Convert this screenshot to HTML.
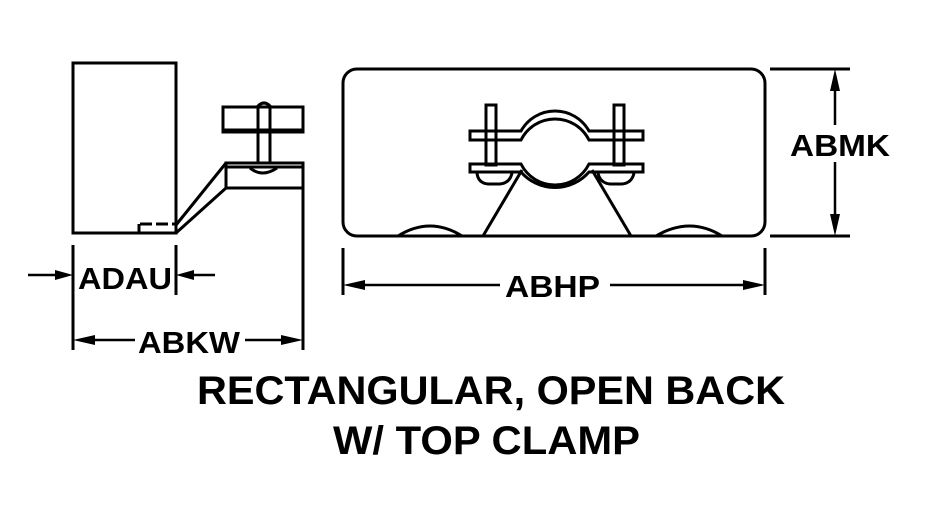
<!DOCTYPE html>
<html><head><style>body{margin:0;background:#fff}</style></head><body>
<svg width="930" height="510" xmlns="http://www.w3.org/2000/svg" font-family="Liberation Sans, sans-serif" font-weight="bold">
<g fill="none" stroke="#000" stroke-width="3">
<rect x="73" y="63" width="103" height="170"/>
<path d="M140 224H176M139 224V233" stroke-dasharray="12,4"/>
<path d="M176 225L226 163M176 233L226 188"/>
<rect x="226" y="163" width="77" height="25"/>
<line x1="226" y1="167" x2="303" y2="167"/>
<path d="M250 168Q262 178 277 168"/>
<rect x="223" y="107" width="80" height="25"/>
<line x1="223" y1="130" x2="303" y2="130"/>
<path d="M258 163V106Q264 100 270 106V163"/>
<line x1="303" y1="188" x2="303" y2="350"/>
<line x1="73" y1="245" x2="73" y2="350"/>
<line x1="176" y1="245" x2="176" y2="295"/>
<rect x="343" y="69" width="422" height="167" rx="14"/>
<path d="M398 236Q430 216 462 236M656 236Q690 216 722 236"/>
<path d="M522 170L483 236M592 170L631 236"/>
<rect x="486" y="105" width="10" height="60"/><rect x="614" y="105" width="10" height="60"/>
<path d="M470 131H521A38.9 38.9 0 0 1 589 131H643V140H589A38 38 0 0 0 521 140H470Z"/>
<path d="M470 164H521A38 38 0 0 0 589 164H643V172H589A45 45 0 0 1 521 172H470Z"/>
<path d="M477 173Q478 183 488 184H500Q510 183 512 173M598 173Q600 183 610 184H622Q632 183 634 173"/>
<line x1="343" y1="248" x2="343" y2="295"/><line x1="765" y1="248" x2="765" y2="295"/>
<line x1="770" y1="69" x2="850" y2="69"/><line x1="770" y1="236" x2="850" y2="236"/>
</g>
<g stroke="#000" stroke-width="2.5">
<line x1="28" y1="275" x2="60" y2="275"/><line x1="190" y1="275" x2="215" y2="275"/>
<line x1="85" y1="340" x2="135" y2="340"/><line x1="245" y1="340" x2="290" y2="340"/>
<line x1="355" y1="285" x2="500" y2="285"/><line x1="610" y1="285" x2="752" y2="285"/>
<line x1="835" y1="82" x2="835" y2="125"/><line x1="835" y1="162" x2="835" y2="222"/>
</g>
<g fill="#000">
<path d="M73 275L55 270V280Z"/><path d="M176 275L194 270V280Z"/>
<path d="M73 340L95 335V345Z"/><path d="M303 340L281 335V345Z"/>
<path d="M343 285L365 280V290Z"/><path d="M765 285L743 280V290Z"/>
<path d="M835 69L830 91H840Z"/><path d="M835 236L830 214H840Z"/>
</g>
<g font-size="31" fill="#000">
<text x="78" y="289" textLength="94" lengthAdjust="spacingAndGlyphs">ADAU</text>
<text x="138" y="353" textLength="102" lengthAdjust="spacingAndGlyphs">ABKW</text>
<text x="505" y="297" textLength="95" lengthAdjust="spacingAndGlyphs">ABHP</text>
<text x="790" y="156" textLength="100" lengthAdjust="spacingAndGlyphs">ABMK</text>
</g>
<g font-size="40" fill="#000">
<text x="197" y="404" textLength="588" lengthAdjust="spacingAndGlyphs">RECTANGULAR, OPEN BACK</text>
<text x="333" y="454" textLength="307" lengthAdjust="spacingAndGlyphs">W/ TOP CLAMP</text>
</g>
</svg>
</body></html>
